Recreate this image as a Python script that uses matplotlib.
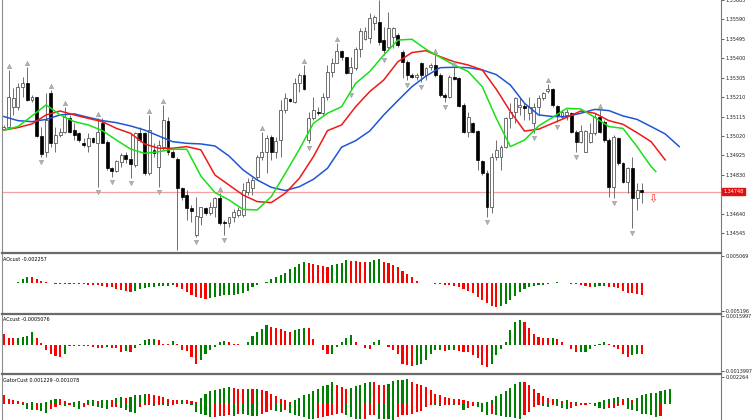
import numpy as np
import matplotlib.pyplot as plt
from matplotlib.lines import Line2D

# ---- candles (price) ----
opens = [1.35055, 1.35066, 1.35163, 1.35163, 1.35258, 1.35281, 1.35196, 1.35209, 1.35020, 1.34943,
         1.35229, 1.34984, 1.35025, 1.35041, 1.35106, 1.35049, 1.35033, 1.34984, 1.34973, 1.35012,
         1.34987, 1.35082, 1.34992, 1.34862, 1.34850, 1.34894, 1.34927, 1.34906, 1.34878, 1.35033,
         1.35033, 1.34837, 1.34951, 1.34870, 1.34968, 1.35095, 1.34943, 1.34906, 1.34764, 1.34731,
         1.34666, 1.34536, 1.34622, 1.34666, 1.34642, 1.34674, 1.34715, 1.34601, 1.34593, 1.34622,
         1.34634, 1.34634, 1.34748, 1.34764, 1.34821, 1.34916, 1.34943, 1.35017, 1.34943, 1.35000,
         1.35147, 1.35201, 1.35188, 1.35277, 1.35318, 1.35000, 1.35106, 1.35139, 1.35131, 1.35212,
         1.35335, 1.35379, 1.35437, 1.35405, 1.35326, 1.35351, 1.35444, 1.35493, 1.35498, 1.35571,
         1.35579, 1.35489, 1.35457, 1.35506, 1.35514, 1.35432, 1.35383, 1.35318, 1.35310, 1.35375,
         1.35318, 1.35359, 1.35367, 1.35318, 1.35220, 1.35212, 1.35310, 1.35302, 1.35172, 1.35041,
         1.35085, 1.35046, 1.34899, 1.34837, 1.34674, 1.34919, 1.34919, 1.34968, 1.35106, 1.35139,
         1.35163, 1.35167, 1.35131, 1.35082, 1.35163, 1.35204, 1.35242, 1.35248, 1.35167, 1.35114,
         1.35123, 1.35131, 1.35041, 1.34992, 1.34943, 1.34992, 1.35033, 1.35114, 1.35090, 1.35000,
         1.34772, 1.35009, 1.34886, 1.34797, 1.34862, 1.34715, 1.34756]
highs = [1.35073, 1.35343, 1.35253, 1.35277, 1.35310, 1.35359, 1.35220, 1.35212, 1.35066, 1.35229,
         1.35245, 1.35066, 1.35057, 1.35163, 1.35123, 1.35082, 1.35041, 1.35009, 1.35033, 1.35017,
         1.35106, 1.35106, 1.35000, 1.34870, 1.34903, 1.34935, 1.34943, 1.35033, 1.35041, 1.35066,
         1.35041, 1.35123, 1.34984, 1.35000, 1.35172, 1.35111, 1.34951, 1.34919, 1.34772, 1.34756,
         1.34683, 1.34723, 1.34674, 1.34674, 1.34699, 1.34723, 1.34740, 1.34609, 1.34626, 1.34661,
         1.34674, 1.34789, 1.34813, 1.34821, 1.34927, 1.35041, 1.35025, 1.35025, 1.35017, 1.35196,
         1.35229, 1.35204, 1.35302, 1.35326, 1.35367, 1.35139, 1.35212, 1.35163, 1.35229, 1.35367,
         1.35400, 1.35473, 1.35440, 1.35408, 1.35408, 1.35457, 1.35546, 1.35555, 1.35620, 1.35612,
         1.35685, 1.35555, 1.35628, 1.35555, 1.35522, 1.35440, 1.35392, 1.35326, 1.35326, 1.35383,
         1.35359, 1.35375, 1.35416, 1.35326, 1.35229, 1.35318, 1.35359, 1.35310, 1.35180, 1.35139,
         1.35090, 1.35049, 1.34903, 1.34854, 1.34935, 1.35000, 1.34976, 1.35114, 1.35180, 1.35212,
         1.35204, 1.35180, 1.35212, 1.35180, 1.35220, 1.35237, 1.35274, 1.35253, 1.35172, 1.35147,
         1.35150, 1.35139, 1.35049, 1.35073, 1.35049, 1.35082, 1.35131, 1.35147, 1.35098, 1.35009,
         1.35025, 1.35017, 1.34894, 1.34870, 1.34919, 1.34789, 1.34789]
lows = [1.35048, 1.35057, 1.35123, 1.35147, 1.35212, 1.35190, 1.35188, 1.35017, 1.34919, 1.34919,
        1.34968, 1.34943, 1.35017, 1.35033, 1.35033, 1.35000, 1.34992, 1.34968, 1.34943, 1.34984,
        1.34772, 1.34984, 1.34854, 1.34821, 1.34846, 1.34870, 1.34886, 1.34813, 1.34870, 1.34992,
        1.34829, 1.34829, 1.34919, 1.34772, 1.34951, 1.34927, 1.34911, 1.34462, 1.34707, 1.34609,
        1.34601, 1.34528, 1.34585, 1.34634, 1.34634, 1.34626, 1.34585, 1.34536, 1.34577, 1.34601,
        1.34626, 1.34626, 1.34731, 1.34731, 1.34805, 1.34903, 1.34837, 1.34903, 1.34911, 1.34919,
        1.35131, 1.35188, 1.35180, 1.35237, 1.35245, 1.34984, 1.35098, 1.35123, 1.35123, 1.35196,
        1.35310, 1.35375, 1.35392, 1.35323, 1.35245, 1.35343, 1.35408, 1.35489, 1.35473, 1.35538,
        1.35465, 1.35416, 1.35440, 1.35449, 1.35457, 1.35302, 1.35294, 1.35302, 1.35294, 1.35286,
        1.35294, 1.35343, 1.35310, 1.35212, 1.35188, 1.35204, 1.35294, 1.35163, 1.35033, 1.35017,
        1.35036, 1.34854, 1.34829, 1.34626, 1.34642, 1.34903, 1.34854, 1.34960, 1.35057, 1.35082,
        1.35123, 1.35098, 1.35098, 1.35033, 1.35123, 1.35196, 1.35232, 1.35163, 1.35090, 1.35106,
        1.35098, 1.35033, 1.34943, 1.34984, 1.34943, 1.34984, 1.35025, 1.35033, 1.34992, 1.34723,
        1.34715, 1.34878, 1.34789, 1.34740, 1.34569, 1.34658, 1.34691]
closes = [1.35065, 1.35212, 1.35204, 1.35258, 1.35281, 1.35196, 1.35209, 1.35020, 1.34932, 1.35098,
          1.34984, 1.35025, 1.35041, 1.35114, 1.35041, 1.35025, 1.35000, 1.34976, 1.35009, 1.34992,
          1.35041, 1.34987, 1.34862, 1.34850, 1.34899, 1.34927, 1.34906, 1.34881, 1.35033, 1.35000,
          1.34837, 1.35049, 1.34935, 1.34976, 1.35098, 1.34943, 1.34919, 1.34764, 1.34723, 1.34666,
          1.34655, 1.34629, 1.34671, 1.34645, 1.34674, 1.34715, 1.34596, 1.34593, 1.34622, 1.34647,
          1.34658, 1.34756, 1.34797, 1.34805, 1.34916, 1.34943, 1.35009, 1.34943, 1.34997, 1.35147,
          1.35204, 1.35193, 1.35277, 1.35318, 1.35248, 1.35106, 1.35147, 1.35131, 1.35212, 1.35335,
          1.35379, 1.35437, 1.35405, 1.35326, 1.35356, 1.35444, 1.35535, 1.35535, 1.35595, 1.35600,
          1.35481, 1.35440, 1.35546, 1.35546, 1.35465, 1.35383, 1.35318, 1.35310, 1.35318, 1.35318,
          1.35351, 1.35367, 1.35318, 1.35220, 1.35212, 1.35310, 1.35299, 1.35167, 1.35041, 1.35114,
          1.35041, 1.34903, 1.34837, 1.34674, 1.34919, 1.34951, 1.34968, 1.35106, 1.35139, 1.35204,
          1.35172, 1.35155, 1.35163, 1.35163, 1.35204, 1.35232, 1.35248, 1.35172, 1.35123, 1.35139,
          1.35139, 1.35041, 1.34992, 1.35044, 1.35044, 1.35033, 1.35114, 1.35041, 1.35000, 1.34772,
          1.35017, 1.34886, 1.34797, 1.34862, 1.34715, 1.34756, 1.34748]

up_fractals = [1, 5, 10, 13, 20, 31, 34, 46, 55, 64, 71, 92, 96, 116, 127]
down_fractals = [8, 20, 23, 27, 33, 37, 41, 47, 65, 74, 81, 86, 89, 94, 103, 113, 118, 122, 130, 134]

bid = 1.34748

# ---- alligator lines (bar, price) ----
jaw_bar = [0, 3, 6, 9, 12, 15, 18, 21, 24, 27, 30, 33, 36, 39, 42, 45, 48, 51, 54, 57, 60, 63, 66, 69,
           72, 75, 78, 81, 84, 87, 90, 93, 96, 99, 102, 105, 108, 111, 114, 117, 120, 123, 126, 129,
           132, 135, 138, 141, 144]
jaw = [1.35115, 1.35095, 1.35090, 1.35101, 1.35123, 1.35128, 1.35111, 1.35095, 1.35085, 1.35069,
       1.35049, 1.35020, 1.34992, 1.34984, 1.34981, 1.34971, 1.34922, 1.34854, 1.34805, 1.34769,
       1.34753, 1.34772, 1.34808, 1.34862, 1.34965, 1.34997, 1.35044, 1.35123, 1.35193, 1.35261,
       1.35313, 1.35354, 1.35356, 1.35354, 1.35343, 1.35320, 1.35269, 1.35180, 1.35123, 1.35115,
       1.35115, 1.35131, 1.35150, 1.35144, 1.35118, 1.35101, 1.35066, 1.35030, 1.34968]
teeth_bar = [0, 3, 6, 9, 12, 15, 18, 21, 24, 27, 30, 33, 36, 39, 42, 45, 48, 51, 54, 57, 60, 63, 66, 69,
             72, 75, 78, 81, 84, 87, 90, 93, 96, 99, 102, 105, 108, 111, 114, 117, 120, 123, 126, 129,
             132, 135, 138, 141]
teeth = [1.35049, 1.35061, 1.35079, 1.35123, 1.35142, 1.35123, 1.35106, 1.35090, 1.35057, 1.35033,
         1.34981, 1.34960, 1.34960, 1.34968, 1.34952, 1.34829, 1.34780, 1.34731, 1.34699, 1.34694,
         1.34740, 1.34813, 1.34919, 1.35046, 1.35074, 1.35163, 1.35237, 1.35294, 1.35383, 1.35428,
         1.35437, 1.35408, 1.35383, 1.35367, 1.35343, 1.35248, 1.35139, 1.35044, 1.35053, 1.35082,
         1.35111, 1.35142, 1.35131, 1.35095, 1.35077, 1.35036, 1.34992, 1.34903]
lips_bar = [0, 3, 6, 9, 12, 15, 18, 21, 24, 27, 30, 33, 36, 39, 42, 45, 48, 51, 54, 57, 60, 63, 66, 69,
            72, 75, 78, 81, 84, 87, 90, 93, 96, 99, 102, 105, 108, 111, 114, 117, 120, 123, 126, 129,
            132, 135, 138, 139]
lips = [1.35049, 1.35066, 1.35118, 1.35172, 1.35123, 1.35090, 1.35074, 1.35046, 1.35000, 1.34956,
        1.34935, 1.34943, 1.34955, 1.34955, 1.34824, 1.34743, 1.34707, 1.34661, 1.34658, 1.34723,
        1.34837, 1.34955, 1.35082, 1.35131, 1.35163, 1.35277, 1.35335, 1.35416, 1.35489, 1.35493,
        1.35444, 1.35405, 1.35367, 1.35335, 1.35261, 1.35106, 1.34968, 1.35000, 1.35069, 1.35111,
        1.35155, 1.35152, 1.35111, 1.35066, 1.35057, 1.34968, 1.34870, 1.34846]

# ---- oscillators, in points (1 point = 0.00001) ----
ao_pts = [12, 12, 12, 25, 87, 118, 116, 81, 44, 19, 6, -19, -19, -12, -19, -19, -12, -19, -25, -31,
          -37, -50, -62, -75, -100, -124, -149, -162, -137, -112, -93, -75, -62, -56, -50, -44, -37, -75, -100, -156,
          -211, -255, -280, -286, -267, -249, -236, -224, -218, -211, -205, -187, -137, -75, -25, 0, 31, 75, 112, 162,
          199, 261, 311, 355, 392, 386, 361, 342, 323, 299, 342, 361, 386, 435, 423, 411, 404, 392, 398, 435,
          448, 404, 373, 342, 299, 236, 174, 112, 50, 12, 0, -2, -6, -12, -25, -31, -50, -75, -112, -137,
          -187, -249, -311, -361, -423, -448, -435, -386, -311, -236, -162, -112, -75, -50, -31, -25, -12, 6, 19, 12,
          0, -12, -19, -31, -50, -75, -62, -56, -50, -62, -75, -93, -137, -174, -187, -205, -226]
ac_pts = [64, 40, 37, 40, 46, 51, 70, 40, 11, -27, -51, -60, -64, -51, -5, -4, -5, -4, -5, -9,
          -15, -16, -9, -15, -18, -37, -33, -37, -18, 9, 27, 33, 35, 27, 9, 7, 22, 9, -27, -33,
          -64, -101, -82, -46, -27, -9, 15, 22, 15, 9, 4, 3, 18, 51, 73, 88, 110, 101, 92, 88,
          77, 73, 82, 88, 95, 92, 33, 0, -27, -51, -46, -9, 15, 40, 55, 18, 0, -18, -19, 18,
          27, 0, -9, -27, -46, -101, -110, -112, -108, -101, -82, -46, -27, -26, -33, -27, -26, -33, -35, -40,
          -55, -73, -110, -119, -101, -55, -22, 18, 82, 128, 137, 128, 92, 64, 46, 40, 37, 38, 33, 18,
          0, -22, -40, -38, -37, -22, -5, 9, 18, 4, -9, -22, -46, -64, -55, -50, -51]
gator_up = [78, 38, 29, 23, 15, 9, 12, 9, 9, 12, 29, 44, 43, 23, 9, 15, 23, 9, 29, 35,
            23, 29, 35, 32, 52, 58, 52, 58, 73, 75, 87, 81, 73, 64, 58, 44, 35, 29, 35, 29,
            26, 15, 52, 81, 110, 122, 131, 139, 142, 139, 131, 128, 131, 125, 131, 122, 110, 81, 64, 44,
            29, 15, 35, 52, 73, 87, 110, 131, 154, 165, 189, 160, 145, 125, 136, 154, 160, 180, 189, 186,
            165, 162, 174, 194, 203, 206, 212, 189, 174, 160, 145, 116, 87, 73, 58, 49, 44, 38, 35, 20,
            15, 17, 9, 15, 35, 67, 87, 107, 136, 174, 189, 186, 160, 131, 96, 67, 49, 38, 41, 23,
            29, 15, 17, 9, 6, 7, 9, 15, 29, 44, 52, 55, 44, 46, 35, 52, 73, 87, 93, 96,
            110, 118, 123]
gator_dn = [6, 6, 6, 6, 9, 44, 52, 52, 64, 78, 49, 29, 15, 23, 9, 29, 44, 29, 15, 23,
            29, 35, 44, 29, 26, 35, 58, 73, 81, 29, 15, 12, 23, 9, 15, 17, 9, 6, 6, 6,
            9, 73, 87, 102, 116, 113, 110, 104, 102, 104, 87, 90, 102, 104, 107, 87, 73, 58, 64, 73,
            58, 81, 102, 110, 116, 131, 133, 128, 116, 110, 102, 87, 81, 102, 116, 131, 133, 131, 102, 99,
            131, 133, 136, 139, 116, 102, 99, 87, 73, 64, 29, 9, 15, 17, 9, 9, 15, 12, 58, 35,
            23, 29, 73, 102, 87, 102, 104, 116, 119, 122, 131, 102, 73, 29, 15, 23, 26, 15, 23, 35,
            44, 35, 23, 15, 9, 6, 23, 35, 44, 41, 35, 23, 15, 44, 58, 64, 87, 90, 102, 116,
            108, np.nan, np.nan]

price_ticks = [1.35685, 1.35590, 1.35495, 1.35400, 1.35305, 1.35210, 1.35115, 1.35020,
               1.34925, 1.34830, 1.34735, 1.34640, 1.34545]

W, H = 752, 420
GREEN, RED = '#008000', '#ff0000'
FS = 3.5

fig = plt.figure(figsize=(W / 100, H / 100), dpi=100)
fig.patch.set_facecolor('white')


def panel(top, bottom):
    ax = fig.add_axes([2 / W, 1 - bottom / H, 719 / W, (bottom - top) / H])
    ax.set_xlim(-0.4, 152.9)
    ax.set_xticks([])
    for s in ['top', 'bottom']:
        ax.spines[s].set_visible(False)
    ax.spines['left'].set_color('#8c8c8c')
    ax.spines['right'].set_color('#7a7a7a')
    ax.spines['left'].set_linewidth(0.8)
    ax.spines['right'].set_linewidth(0.8)
    ax.yaxis.tick_right()
    ax.tick_params(axis='y', length=2, width=0.5, pad=1, labelsize=FS, colors='#202020')
    return ax


def hist_colors(vals):
    cols = [RED]
    for a, b in zip(vals[:-1], vals[1:]):
        cols.append(GREEN if b > a else RED)
    return cols


# ---- main price panel ----
ax = panel(0, 252.5)
ax.set_ylim(1.34450, 1.35685)
ax.set_yticks(price_ticks)
# the 1.34735 label sits under the bid price box
ax.set_yticklabels(['' if abs(v - 1.34735) < 1e-7 else '%.5f' % v for v in price_ticks])

o = np.array(opens); h = np.array(highs); l = np.array(lows); c = np.array(closes)
x = np.arange(len(o))
ax.axhline(bid, color='#f3a3a3', lw=0.9, zorder=1)
ax.vlines(x, l, h, color='#6e6e6e', lw=0.7, zorder=2)
bull = c >= o
body = np.maximum(np.abs(c - o), 0.00003)
ax.bar(x[bull], body[bull], bottom=np.minimum(o, c)[bull], width=0.62,
       color='white', edgecolor='#3a3a3a', linewidth=0.5, zorder=3)
ax.bar(x[~bull], body[~bull], bottom=np.minimum(o, c)[~bull], width=0.62,
       color='black', edgecolor='black', linewidth=0.5, zorder=3)

ax.plot(jaw_bar, jaw, color='#1f56d6', lw=1.1, zorder=4)
ax.plot(teeth_bar, teeth, color='#f01818', lw=1.1, zorder=4)
ax.plot(lips_bar, lips, color='#18e018', lw=1.1, zorder=4)

ax.plot(up_fractals, h[up_fractals] + 0.00020, ls='none', marker='^', ms=3.2,
        color='#b4b4b4', mec='#8a8a8a', mew=0.3, zorder=5)
ax.plot(down_fractals, l[down_fractals] - 0.00025, ls='none', marker='v', ms=3.2,
        color='#b4b4b4', mec='#8a8a8a', mew=0.3, zorder=5)

ax.text(138.3, 1.34712, '\u21e9', color='#ff3030', fontsize=8, ha='center', va='center', zorder=6)
ax.text(1.003, bid, '1.34748', transform=ax.get_yaxis_transform(), fontsize=FS, color='white',
        va='center', ha='left', clip_on=False, zorder=10,
        bbox=dict(boxstyle='square,pad=0.25', fc='#e01010', ec='#e01010'))

# ---- AO panel ----
ax2 = panel(254.5, 312.5)
ao = np.array(ao_pts) * 1e-5
ax2.bar(np.arange(len(ao)), ao, width=0.45, color=hist_colors(ao), linewidth=0)
ax2.set_ylim(-0.00548, 0.00541)
ax2.set_yticks([0.005069, -0.005196])
ax2.set_yticklabels(['0.005069', '-0.005196'])
ax2.text(0.002, 0.95, 'AOcust -0.002257', transform=ax2.transAxes, fontsize=FS, va='top')

# ---- AC panel ----
ax3 = panel(314.5, 372.5)
ac = np.array(ac_pts) * 1e-5
ax3.bar(np.arange(len(ac)), ac, width=0.45, color=hist_colors(ac), linewidth=0)
ax3.set_ylim(-0.00150, 0.00169)
ax3.set_yticks([0.0015997, -0.0013997])
ax3.set_yticklabels(['0.0015997', '-0.0013997'])
ax3.text(0.002, 0.95, 'ACcust -0.0005076', transform=ax3.transAxes, fontsize=FS, va='top')

# ---- Gator panel ----
ax4 = panel(374.5, 420)
gu = np.array(gator_up) * 1e-5
gd = np.array(gator_dn) * 1e-5
gx = np.arange(len(gu))
ax4.bar(gx, gu, width=0.45, color=hist_colors(gu), linewidth=0)
ax4.bar(gx, -gd, width=0.45, color=hist_colors(gd), linewidth=0)
ax4.set_ylim(-0.00141, 0.00252)
ax4.set_yticks([0.002264])
ax4.set_yticklabels(['0.002264'])
ax4.text(0.002, 0.93, 'GatorCust 0.001229 -0.001078', transform=ax4.transAxes, fontsize=FS, va='top')

# panel separators
for yy in [253.5, 313.5, 373.5]:
    fig.add_artist(Line2D([2 / W, 721 / W], [1 - yy / H] * 2, transform=fig.transFigure,
                          color='#6a6a6a', lw=1.6))

fig.savefig('out.png', dpi=100)
